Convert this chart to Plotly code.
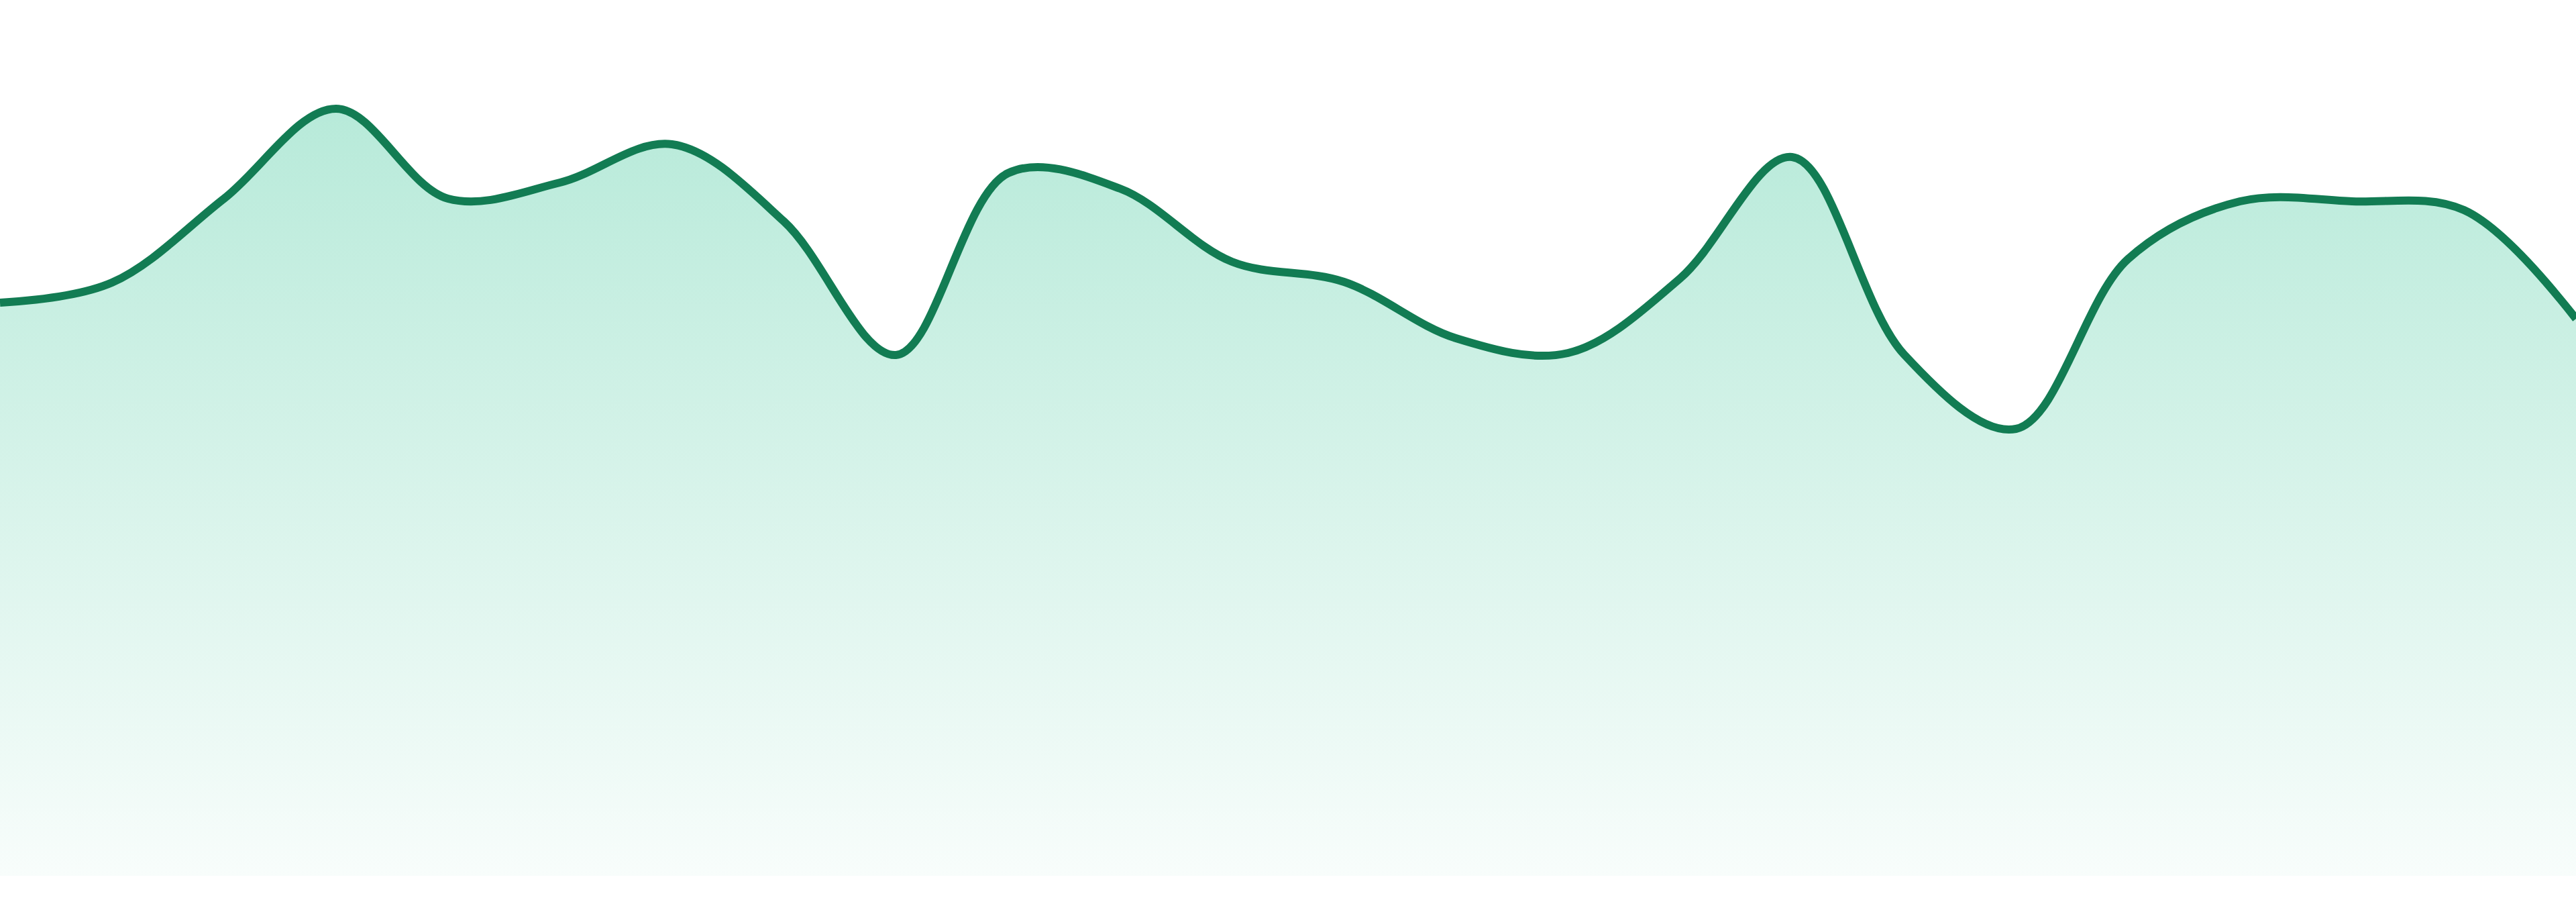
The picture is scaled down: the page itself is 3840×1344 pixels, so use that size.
import plotly.graph_objects as go

# one value per step
steps = list(range(24))
values = [85.4, 88.4, 100.9, 114.3, 100.9, 103.3, 109.0, 97.5, 77.6, 104.7, 102.4, 91.5,
          88.5, 80.1, 77.9, 89.0, 107.1, 77.7, 66.6, 91.9, 100.5, 100.5, 99.2, 83.0]

line_color = "#127c53"

fig = go.Figure()
fig.add_trace(go.Scatter(
    x=steps,
    y=values,
    mode="lines",
    line=dict(color=line_color, width=12, shape="spline", smoothing=1),
    fill="tozeroy",
    fillgradient=dict(
        type="vertical",
        colorscale=[[0, "rgba(16,185,129,0.03)"], [1, "rgba(16,185,129,0.30)"]],
    ),
    hoverinfo="skip",
    showlegend=False,
))

fig.update_layout(
    width=3840,
    height=1344,
    margin=dict(l=0, r=0, t=0, b=39),
    paper_bgcolor="white",
    plot_bgcolor="white",
    xaxis=dict(visible=False, range=[0, 23]),
    yaxis=dict(visible=False, range=[0, 130.5]),
)

# page body has an 8px default margin, drop it so the chart sits flush
fig.write_html("out.html", config={"displayModeBar": False},
               post_script="document.body.style.margin='0';")
